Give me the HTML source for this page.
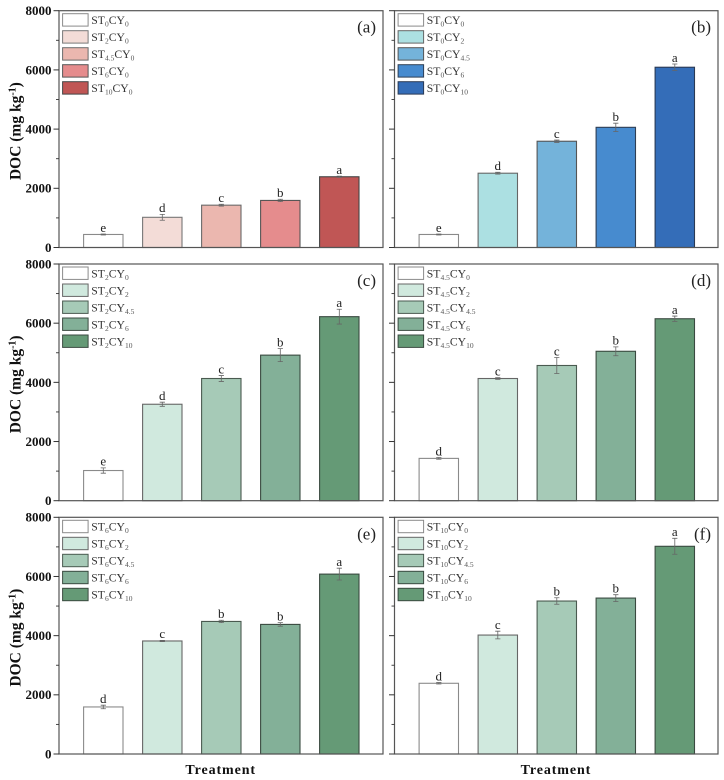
<!DOCTYPE html>
<html>
<head>
<meta charset="utf-8">
<title>DOC by treatment</title>
<style>
html,body{margin:0;padding:0;background:#fff;width:724px;height:780px;overflow:hidden}
svg{display:block;font-family:"Liberation Serif",serif;filter:blur(0.3px)}
</style>
</head>
<body>
<svg id="chart" width="724" height="780" viewBox="0 0 724 780" xmlns="http://www.w3.org/2000/svg"></svg>
<script>
const valuesA = [440, 1020, 1430, 1590, 2390];
const errorsA = [15, 100, 30, 40, 20];
const lettersA = ['e', 'd', 'c', 'b', 'a'];
const subSTA = ['0', '2', '4.5', '6', '10'];
const subCYA = ['0', '0', '0', '0', '0'];

const valuesB = [440, 2510, 3590, 4060, 6090];
const errorsB = [15, 30, 40, 140, 110];
const lettersB = ['e', 'd', 'c', 'b', 'a'];
const subSTB = ['0', '0', '0', '0', '0'];
const subCYB = ['0', '2', '4.5', '6', '10'];

const valuesC = [1020, 3260, 4130, 4920, 6220];
const errorsC = [90, 70, 100, 220, 250];
const lettersC = ['e', 'd', 'c', 'b', 'a'];
const subSTC = ['2', '2', '2', '2', '2'];
const subCYC = ['0', '2', '4.5', '6', '10'];

const valuesD = [1430, 4130, 4570, 5050, 6150];
const errorsD = [30, 30, 270, 150, 90];
const lettersD = ['d', 'c', 'c', 'b', 'a'];
const subSTD = ['4.5', '4.5', '4.5', '4.5', '4.5'];
const subCYD = ['0', '2', '4.5', '6', '10'];

const valuesE = [1590, 3820, 4480, 4380, 6080];
const errorsE = [60, 20, 40, 60, 200];
const lettersE = ['d', 'c', 'b', 'b', 'a'];
const subSTE = ['6', '6', '6', '6', '6'];
const subCYE = ['0', '2', '4.5', '6', '10'];

const valuesF = [2390, 4020, 5170, 5270, 7020];
const errorsF = [25, 130, 110, 115, 270];
const lettersF = ['d', 'c', 'b', 'b', 'a'];
const subSTF = ['10', '10', '10', '10', '10'];
const subCYF = ['0', '2', '4.5', '6', '10'];

const yTicks = [0, 2000, 4000, 6000, 8000];
const yMinorTicks = [1000, 3000, 5000, 7000];
const yMax = 8000;

const redFill = ['#ffffff', '#f3dcd7', '#ebb7af', '#e58c8d', '#c05655'];
const blueFill = ['#ffffff', '#ace0e2', '#74b3da', '#478bcf', '#346db8'];
const greenFill = ['#ffffff', '#d0e9de', '#a6cab7', '#83b098', '#659a76'];
const redEdge = ['#8a8a8a', '#777777', '#6a6a6a', '#555555', '#444444'];
const blueEdge = ['#8a8a8a', '#666666', '#555555', '#2f3f55', '#2a3a55'];
const greenEdge = ['#8a8a8a', '#666666', '#4a5a50', '#3a4a40', '#3a4a40'];

const NS = 'http://www.w3.org/2000/svg';
const svg = document.getElementById('chart');

function make(tag, attrs, parent) {
  const el = document.createElementNS(NS, tag);
  for (const k in attrs) el.setAttribute(k, attrs[k]);
  parent.appendChild(el);
  return el;
}
function span(parent, txt, size, dy, fill) {
  const t = make('tspan', {'font-size': size, dy: dy, fill: fill}, parent);
  t.textContent = txt;
}

function drawPanel(id, left, right, top, bottom, values, errors, letters, subST, subCY, fills, edges, showY, showX) {
  const g = make('g', {}, svg);
  
  

  const yScale = v => bottom - (v / yMax) * (bottom - top);
  const step = 59;
  const xScale = i => left + 44.3 + step * i;
  const barW = 39.4;

  values.forEach((v, i) => {
    const bar = make('rect', {x: xScale(i) - barW / 2, y: yScale(v), width: barW, height: bottom - yScale(v), fill: fills[i], stroke: edges[i], 'stroke-width': 1.1}, g);
    
    

    const hi = yScale(v + errors[i]);
    const lo = yScale(v - errors[i]);
    const cx = xScale(i);
    const err = make('path', {d: 'M' + cx + ' ' + hi + 'V' + lo + 'M' + (cx - 2.6) + ' ' + hi + 'H' + (cx + 2.6) + 'M' + (cx - 2.6) + ' ' + lo + 'H' + (cx + 2.6), fill: 'none', stroke: '#666666', 'stroke-width': 0.8}, g);
    
    

    const lab = make('text', {x: cx, y: hi - 2.2, 'text-anchor': 'middle', 'font-size': 13, fill: '#222222'}, g);
    lab.textContent = letters[i];
    
    
  });

  const frame = make('rect', {x: left, y: top, width: right - left, height: bottom - top, fill: 'none', stroke: '#555555', 'stroke-width': 1.2}, g);
  
  

  yTicks.forEach(t => {
    const tick = make('line', {x1: left - 5.5, x2: left, y1: yScale(t), y2: yScale(t), stroke: '#333333', 'stroke-width': 1}, g);
    
    
    if (showY) {
      const tl = make('text', {x: 51.5, y: yScale(t) + 4.4, 'text-anchor': 'end', 'font-size': 13, 'font-weight': 'bold', fill: '#111111'}, g);
      tl.textContent = t;
      
      
    }
  });
  yMinorTicks.forEach(t => {
    const tick = make('line', {x1: left - 3, x2: left, y1: yScale(t), y2: yScale(t), stroke: '#333333', 'stroke-width': 0.9}, g);
    
    
  });

  values.forEach((v, i) => {
    const sy = top + 3 + 17 * i;
    const sw = make('rect', {x: left + 3.6, y: sy, width: 25.5, height: 12.4, fill: fills[i], stroke: edges[i], 'stroke-width': 1}, g);
    
    

    const lt = make('text', {x: left + 32.3, y: sy + 10.3, 'font-size': 11.7, fill: '#333333'}, g);
    
    
    span(lt, 'ST', 11.7, 0, '#333333');
    span(lt, subST[i], 7.5, 2.6, '#555555');
    span(lt, 'CY', 11.7, -2.6, '#333333');
    span(lt, subCY[i], 7.5, 2.6, '#555555');
  });

  const pl = make('text', {x: right - 7, y: top + 22, 'text-anchor': 'end', 'font-size': 17, fill: '#222222'}, g);
  pl.textContent = '(' + id + ')';
  
  

  if (showY) {
    const cy = (top + bottom) / 2 + 2;
    const yt = make('text', {transform: 'translate(20.5 ' + cy + ') rotate(-90)', 'text-anchor': 'middle', 'font-size': 15.5, 'font-weight': 'bold', fill: '#111111'}, g);
    
    
    span(yt, 'DOC (mg kg', 15.5, 0, '#111111');
    span(yt, '-1', 10, -5, '#111111');
    span(yt, ')', 15.5, 5, '#111111');
  }
  if (showX) {
    const xt = make('text', {x: (left + right) / 2 - 0.3, y: 774, 'text-anchor': 'middle', 'font-size': 14, 'font-weight': 'bold', 'letter-spacing': 0.9, fill: '#111111'}, g);
    xt.textContent = 'Treatment';
    
    
  }
}

drawPanel('a', 59, 383, 10.7, 247.5, valuesA, errorsA, lettersA, subSTA, subCYA, redFill, redEdge, true, false);
drawPanel('b', 394.5, 718, 10.7, 247.5, valuesB, errorsB, lettersB, subSTB, subCYB, blueFill, blueEdge, false, false);
drawPanel('c', 59, 383, 264, 500.7, valuesC, errorsC, lettersC, subSTC, subCYC, greenFill, greenEdge, true, false);
drawPanel('d', 394.5, 718, 264, 500.7, valuesD, errorsD, lettersD, subSTD, subCYD, greenFill, greenEdge, false, false);
drawPanel('e', 59, 383, 517.3, 754, valuesE, errorsE, lettersE, subSTE, subCYE, greenFill, greenEdge, true, true);
drawPanel('f', 394.5, 718, 517.3, 754, valuesF, errorsF, lettersF, subSTF, subCYF, greenFill, greenEdge, false, true);
</script>
</body>
</html>
